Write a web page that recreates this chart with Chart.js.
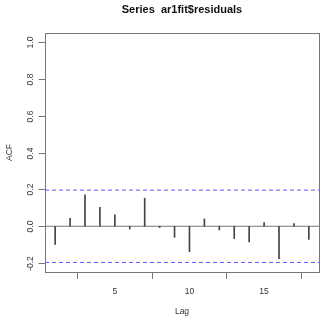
<!DOCTYPE html>
<html>
<head>
<meta charset="utf-8">
<script src="https://cdn.jsdelivr.net/npm/chart.js@4/dist/chart.umd.min.js"></script>
<style>
html,body{margin:0;padding:0;background:#fff;}
#wrap{width:322px;height:320px;position:relative;}
</style>
</head>
<body>
<div id="wrap"><canvas id="c" width="322" height="320"></canvas></div>
<script>
const titleText = "Series  ar1fit$residuals";
const xLabel = "Lag";
const yLabel = "ACF";
const lags = [1,2,3,4,5,6,7,8,9,10,11,12,13,14,15,16,17,18];
const acfValues = [-0.098,0.043,0.170,0.103,0.062,-0.015,0.152,-0.007,-0.060,-0.138,0.040,-0.020,-0.067,-0.085,0.020,-0.176,0.015,-0.072];
const ciLimit = [0.196];
const xTicks = [5,10,15];
const yTicks = [-0.2,0.0,0.2,0.4,0.6,0.8,1.0];
const xRange = [0.32,18.68];
const yRange = [-0.248,1.048];

const FONT = "'Liberation Sans', Arial, sans-serif";
const AXFONT = 8.5;

const boxPlugin = {
  id: 'rbox',
  afterDraw(chart) {
    const {ctx, chartArea: a, scales} = chart;
    ctx.save();
    ctx.strokeStyle = '#777';
    ctx.lineWidth = 1;
    const L = Math.round(a.left)+0.5, T = Math.round(a.top)+0.5;
    ctx.strokeRect(L, T, Math.round(a.right-a.left), Math.round(a.bottom-a.top));
    // y tick marks and labels (rotated like R)
    ctx.fillStyle = '#333';
    ctx.font = AXFONT + "px " + FONT;
    ctx.textAlign = 'center';
    ctx.textBaseline = 'middle';
    yTicks.forEach(v => {
      const y = Math.round(scales.y.getPixelForValue(v)) + 0.5;
      ctx.beginPath();
      ctx.moveTo(L - 7, y);
      ctx.lineTo(L, y);
      ctx.stroke();
      ctx.save();
      ctx.translate(31, y);
      ctx.rotate(-Math.PI/2);
      ctx.fillText(v.toFixed(1), 0, 0);
      ctx.restore();
    });
    // title
    ctx.fillStyle = '#111';
    ctx.font = "bold 11px " + FONT;
    ctx.fillText(titleText, (a.left + a.right)/2, 9.5);
    ctx.restore();
  }
};

const fmt = v => ({value: v});

new Chart(document.getElementById('c'), {
  type: 'bar',
  data: {
    datasets: [
      {
        type: 'bar',
        data: lags.map((l,i) => ({x:l, y:acfValues[i]})),
        backgroundColor: '#444',
        borderWidth: 0,
        barThickness: 1,
        order: 1
      },
      {
        type: 'line',
        data: [{x:xRange[0], y:0},{x:xRange[1], y:0}],
        borderColor: '#777',
        borderWidth: 1,
        pointRadius: 0,
        order: 2
      },
      {
        type: 'line',
        data: [{x:xRange[0], y:ciLimit[0]},{x:xRange[1], y:ciLimit[0]}],
        borderColor: '#5a5aff',
        borderWidth: 1,
        borderDash: [4,3],
        pointRadius: 0,
        order: 2
      },
      {
        type: 'line',
        data: [{x:xRange[0], y:-ciLimit[0]},{x:xRange[1], y:-ciLimit[0]}],
        borderColor: '#5a5aff',
        borderWidth: 1,
        borderDash: [4,3],
        pointRadius: 0,
        order: 2
      }
    ]
  },
  options: {
    responsive: false,
    animation: false,
    devicePixelRatio: 1,
    layout: {padding: {left: 0, right: 3, top: 33, bottom: 0}},
    plugins: {legend: {display: false}, tooltip: {enabled: false}, title: {display: false}},
    scales: {
      x: {
        type: 'linear',
        min: xRange[0], max: xRange[1],
        offset: false,
        afterBuildTicks: s => { s.ticks = xTicks.map(fmt); },
        afterFit: s => { s.height = 48; },
        grid: {drawOnChartArea: false, drawTicks: true, tickLength: 7, color: '#777'},
        border: {display: false},
        ticks: {color: '#333', font: {family: FONT, size: AXFONT}, padding: 8, maxRotation: 0, autoSkip: false},
        title: {display: true, text: xLabel, color: '#333', font: {family: FONT, size: AXFONT}, padding: {top: 0, bottom: 3}}
      },
      y: {
        type: 'linear',
        min: yRange[0], max: yRange[1],
        afterBuildTicks: s => { s.ticks = yTicks.map(fmt); },
        afterFit: s => { s.width = 45; },
        grid: {display: false},
        border: {display: false},
        ticks: {display: false},
        title: {display: true, text: yLabel, color: '#333', font: {family: FONT, size: AXFONT}, padding: {top: 5, bottom: 0}}
      }
    }
  },
  plugins: [boxPlugin]
});
</script>
</body>
</html>
